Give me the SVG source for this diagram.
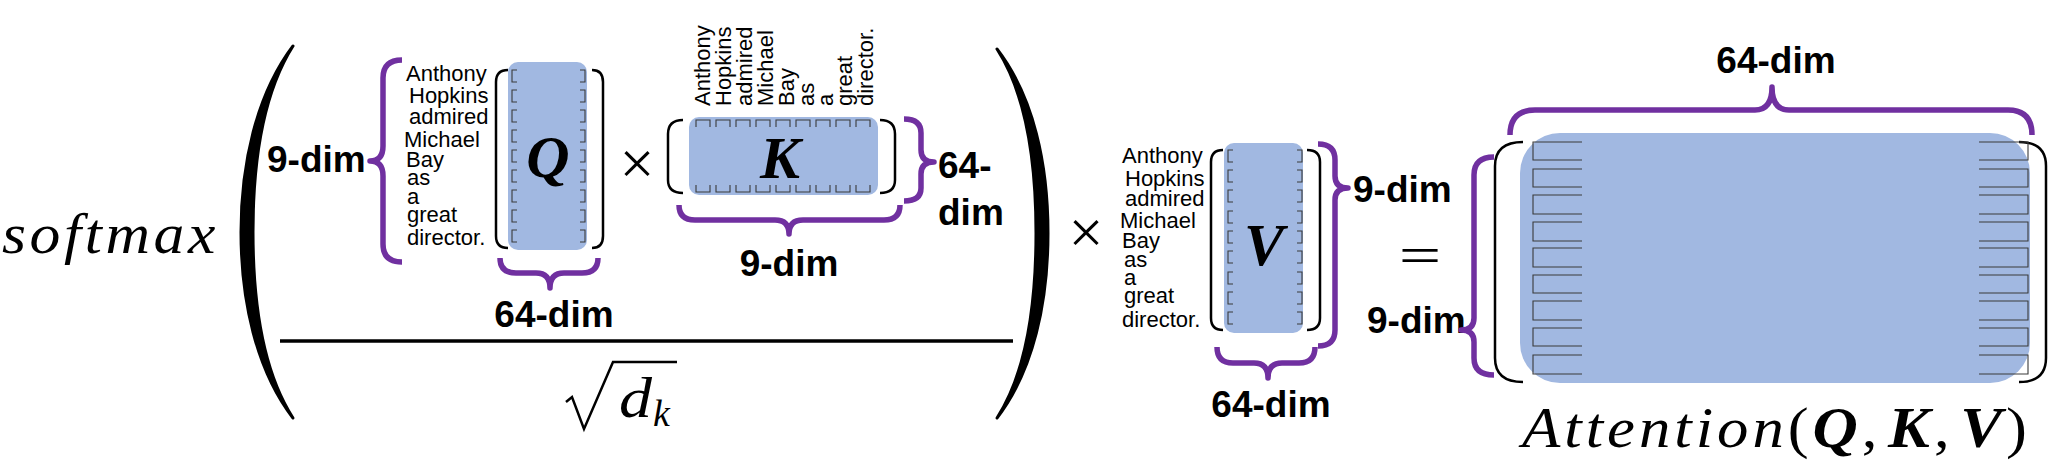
<svg xmlns="http://www.w3.org/2000/svg" width="2048" height="463" viewBox="0 0 2048 463">
<style>
.bg{fill:#ffffff}
.blue{fill:#A1B8E1}
.brk{fill:none;stroke:#000;stroke-width:2.5}
.brace{fill:none;stroke:#7030A0;stroke-width:5.5;stroke-linejoin:round}
.cell{fill:none;stroke:#3a3a3a;stroke-width:1.1}
.paren{fill:#000;stroke:#000;stroke-width:3;stroke-linejoin:round}
.lbl{font-family:"Liberation Sans",Arial,sans-serif;font-weight:bold;font-size:37px;fill:#000}
.word{font-family:"Liberation Sans",Arial,sans-serif;font-size:22px;fill:#000}
.math{font-family:"Liberation Serif","Times New Roman",serif;fill:#000}
.mi{font-style:italic}
.mb{font-style:italic;font-weight:bold}
</style>
<rect class="bg" x="0" y="0" width="2048" height="463"/>

<g id="softmax">
<text class="math mi" transform="translate(2,253) scale(1.1,1)" x="0" y="0" font-size="56" textLength="194" lengthAdjust="spacing">softmax</text>
</g>

<g id="parens">
<path class="paren" d="M293,46 C256,95 241,165 241,232 C241,300 256,370 293,418 C262,370 253,300 253,232 C253,165 262,95 293,46 Z"/>
<path class="paren" d="M997,49 C1034,97 1048,165 1048,233 C1048,301 1034,370 997,418 C1028,370 1036,301 1036,233 C1036,165 1028,97 997,49 Z"/>
</g>

<g id="fraction">
<line x1="280" y1="341" x2="1013" y2="341" stroke="#000" stroke-width="3.5"/>
<path d="M566,402 L572,397 L584,429 L613,362 L677,362" fill="none" stroke="#000" stroke-width="2.5" stroke-linejoin="miter"/>
<text class="math mi" x="619" y="417" font-size="58" textLength="33" lengthAdjust="spacingAndGlyphs">d</text>
<text class="math mi" x="653" y="426" font-size="38">k</text>
</g>

<g id="Q-matrix">
<text class="lbl" x="267" y="172">9-dim</text>
<path class="brace" d="M402,60 Q383,60 383,78 L383,146 Q383,161 370,161 Q383,161 383,176 L383,244 Q383,262 402,262"/>
<text class="word" x="406" y="81">Anthony</text>
<text class="word" x="409" y="103">Hopkins</text>
<text class="word" x="409" y="124">admired</text>
<text class="word" x="404" y="147">Michael</text>
<text class="word" x="406" y="167">Bay</text>
<text class="word" x="407" y="185">as</text>
<text class="word" x="407" y="204">a</text>
<text class="word" x="407" y="222">great</text>
<text class="word" x="407" y="245">director.</text>
<rect class="blue" x="508" y="62" width="79" height="188" rx="10"/>
<path class="brk" d="M508,70 Q496,70 496,82 L496,236 Q496,248 508,248"/>
<path class="brk" d="M592,70 Q603,70 603,82 L603,236 Q603,248 592,248"/>
<path class="cell" d="M517,70 H512 V82 H517 M517,90 H512 V102 H517 M517,110 H512 V122 H517 M517,130 H512 V142 H517 M517,150 H512 V162 H517 M517,170 H512 V182 H517 M517,190 H512 V202 H517 M517,210 H512 V222 H517 M517,230 H512 V242 H517"/>
<path class="cell" d="M580,70 H585 V82 H580 M580,90 H585 V102 H580 M580,110 H585 V122 H580 M580,130 H585 V142 H580 M580,150 H585 V162 H580 M580,170 H585 V182 H580 M580,190 H585 V202 H580 M580,210 H585 V222 H580 M580,230 H585 V242 H580"/>
<text class="math mb" x="548" y="177" font-size="60" text-anchor="middle">Q</text>
<path class="brace" d="M500,258 Q500,273 516,273 L536,273 Q550,273 550,288 Q550,273 564,273 L582,273 Q598,273 598,258"/>
<text class="lbl" x="554" y="327" text-anchor="middle">64-dim</text>
</g>

<g id="times1">
<text class="math" x="637" y="184" font-size="62" text-anchor="middle">×</text>
</g>

<g id="K-matrix">
<g class="word">
<text transform="translate(710,106) rotate(-90)">Anthony</text>
<text transform="translate(731,106) rotate(-90)">Hopkins</text>
<text transform="translate(752,106) rotate(-90)">admired</text>
<text transform="translate(773,106) rotate(-90)">Michael</text>
<text transform="translate(794,106) rotate(-90)">Bay</text>
<text transform="translate(814,106) rotate(-90)">as</text>
<text transform="translate(833,106) rotate(-90)">a</text>
<text transform="translate(852,106) rotate(-90)">great</text>
<text transform="translate(873,106) rotate(-90)">director.</text>
</g>
<rect class="blue" x="689" y="117" width="189" height="78" rx="10"/>
<path class="brk" d="M683,120 Q668,120 668,134 L668,180 Q668,193 683,193"/>
<path class="brk" d="M880,120 Q895,120 895,134 L895,180 Q895,193 880,193"/>
<path class="cell" d="M696,127 V120 H710 V127 M716,127 V120 H730 V127 M736,127 V120 H750 V127 M756,127 V120 H770 V127 M776,127 V120 H790 V127 M796,127 V120 H810 V127 M816,127 V120 H830 V127 M836,127 V120 H850 V127 M856,127 V120 H870 V127"/>
<path class="cell" d="M696,185 V192 H710 V185 M716,185 V192 H730 V185 M736,185 V192 H750 V185 M756,185 V192 H770 V185 M776,185 V192 H790 V185 M796,185 V192 H810 V185 M816,185 V192 H830 V185 M836,185 V192 H850 V185 M856,185 V192 H870 V185"/>
<text class="math mb" x="780" y="178" font-size="60" text-anchor="middle">K</text>
<path class="brace" d="M904,119 Q921,119 921,133 L921,150 Q921,162 934,162 Q921,162 921,174 L921,188 Q921,201 904,201"/>
<text class="lbl" x="938" y="178">64-</text>
<text class="lbl" x="938" y="225">dim</text>
<path class="brace" d="M679,205 Q679,220 695,220 L775,220 Q789,220 789,234 Q789,220 803,220 L884,220 Q900,220 900,205"/>
<text class="lbl" x="789" y="276" text-anchor="middle">9-dim</text>
</g>

<g id="times2">
<text class="math" x="1086" y="253" font-size="62" text-anchor="middle">×</text>
</g>

<g id="V-matrix">
<text class="word" x="1122" y="163">Anthony</text>
<text class="word" x="1125" y="186">Hopkins</text>
<text class="word" x="1125" y="206">admired</text>
<text class="word" x="1120" y="228">Michael</text>
<text class="word" x="1122" y="248">Bay</text>
<text class="word" x="1124" y="267">as</text>
<text class="word" x="1124" y="285">a</text>
<text class="word" x="1124" y="303">great</text>
<text class="word" x="1122" y="327">director.</text>
<rect class="blue" x="1224" y="143" width="79" height="190" rx="10"/>
<path class="brk" d="M1223,150 Q1211,150 1211,162 L1211,318 Q1211,330 1223,330"/>
<path class="brk" d="M1307,150 Q1320,150 1320,162 L1320,318 Q1320,330 1307,330"/>
<path class="cell" d="M1233,150 H1228 V162 H1233 M1233,170 H1228 V182 H1233 M1233,190 H1228 V202 H1233 M1233,211 H1228 V223 H1233 M1233,231 H1228 V243 H1233 M1233,251 H1228 V263 H1233 M1233,272 H1228 V284 H1233 M1233,292 H1228 V304 H1233 M1233,312 H1228 V324 H1233"/>
<path class="cell" d="M1297,150 H1302 V162 H1297 M1297,170 H1302 V182 H1297 M1297,190 H1302 V202 H1297 M1297,211 H1302 V223 H1297 M1297,231 H1302 V243 H1297 M1297,251 H1302 V263 H1297 M1297,272 H1302 V284 H1297 M1297,292 H1302 V304 H1297 M1297,312 H1302 V324 H1297"/>
<text class="math mb" x="1264" y="265" font-size="60" text-anchor="middle">V</text>
<path class="brace" d="M1318,144 Q1335,144 1335,160 L1335,176 Q1335,188 1348,188 Q1335,188 1335,200 L1335,330 Q1335,346 1318,346"/>
<text class="lbl" x="1353" y="202">9-dim</text>
<path class="brace" d="M1217,347 Q1217,363 1233,363 L1254,363 Q1268,363 1268,378 Q1268,363 1282,363 L1299,363 Q1315,363 1315,347"/>
<text class="lbl" x="1271" y="417" text-anchor="middle">64-dim</text>
</g>

<g id="equals">
<text class="math" transform="translate(1420,273) scale(1.45,1)" x="0" y="0" font-size="52" text-anchor="middle">=</text>
</g>

<g id="attention-matrix">
<text class="lbl" x="1367" y="333">9-dim</text>
<path class="brace" d="M1494,157 Q1474,157 1474,175 L1474,318 Q1474,330 1461,330 Q1474,330 1474,342 L1474,358 Q1474,375 1494,375"/>
<text class="lbl" x="1776" y="73" text-anchor="middle">64-dim</text>
<path class="brace" d="M1510,135 Q1510,110 1535,110 L1755,110 Q1772,110 1772,87 Q1772,110 1789,110 L2008,110 Q2032,110 2032,135"/>
<rect class="blue" x="1520" y="133" width="510" height="250" rx="40"/>
<path class="brk" d="M1523,142 Q1495,142 1495,166 L1495,358 Q1495,382 1523,382"/>
<path class="brk" d="M2019,142 Q2046,142 2046,166 L2046,358 Q2046,382 2019,382"/>
<path class="cell" d="M1582,142 L1533,142 L1533,160 L1582,160 M1582,169 L1533,169 L1533,187 L1582,187 M1582,195 L1533,195 L1533,214 L1582,214 M1582,222 L1533,222 L1533,241 L1582,241 M1582,248 L1533,248 L1533,267 L1582,267 M1582,275 L1533,275 L1533,293 L1582,293 M1582,301 L1533,301 L1533,320 L1582,320 M1582,328 L1533,328 L1533,346 L1582,346 M1582,355 L1533,355 L1533,374 L1582,374"/>
<path class="cell" d="M1979,142 L2028,142 L2028,160 L1979,160 M1979,169 L2028,169 L2028,187 L1979,187 M1979,195 L2028,195 L2028,214 L1979,214 M1979,222 L2028,222 L2028,241 L1979,241 M1979,248 L2028,248 L2028,267 L1979,267 M1979,275 L2028,275 L2028,293 L1979,293 M1979,301 L2028,301 L2028,320 L1979,320 M1979,328 L2028,328 L2028,346 L1979,346 M1979,355 L2028,355 L2028,374 L1979,374"/>
<text class="math" transform="translate(1522,447) scale(1.1,1)" x="0" y="0" font-size="57" textLength="459" lengthAdjust="spacing"><tspan class="mi">Attention</tspan>(<tspan class="mb">Q</tspan>,<tspan class="mb" dx="6">K</tspan>,<tspan class="mb" dx="6">V</tspan>)</text>
</g>
</svg>
